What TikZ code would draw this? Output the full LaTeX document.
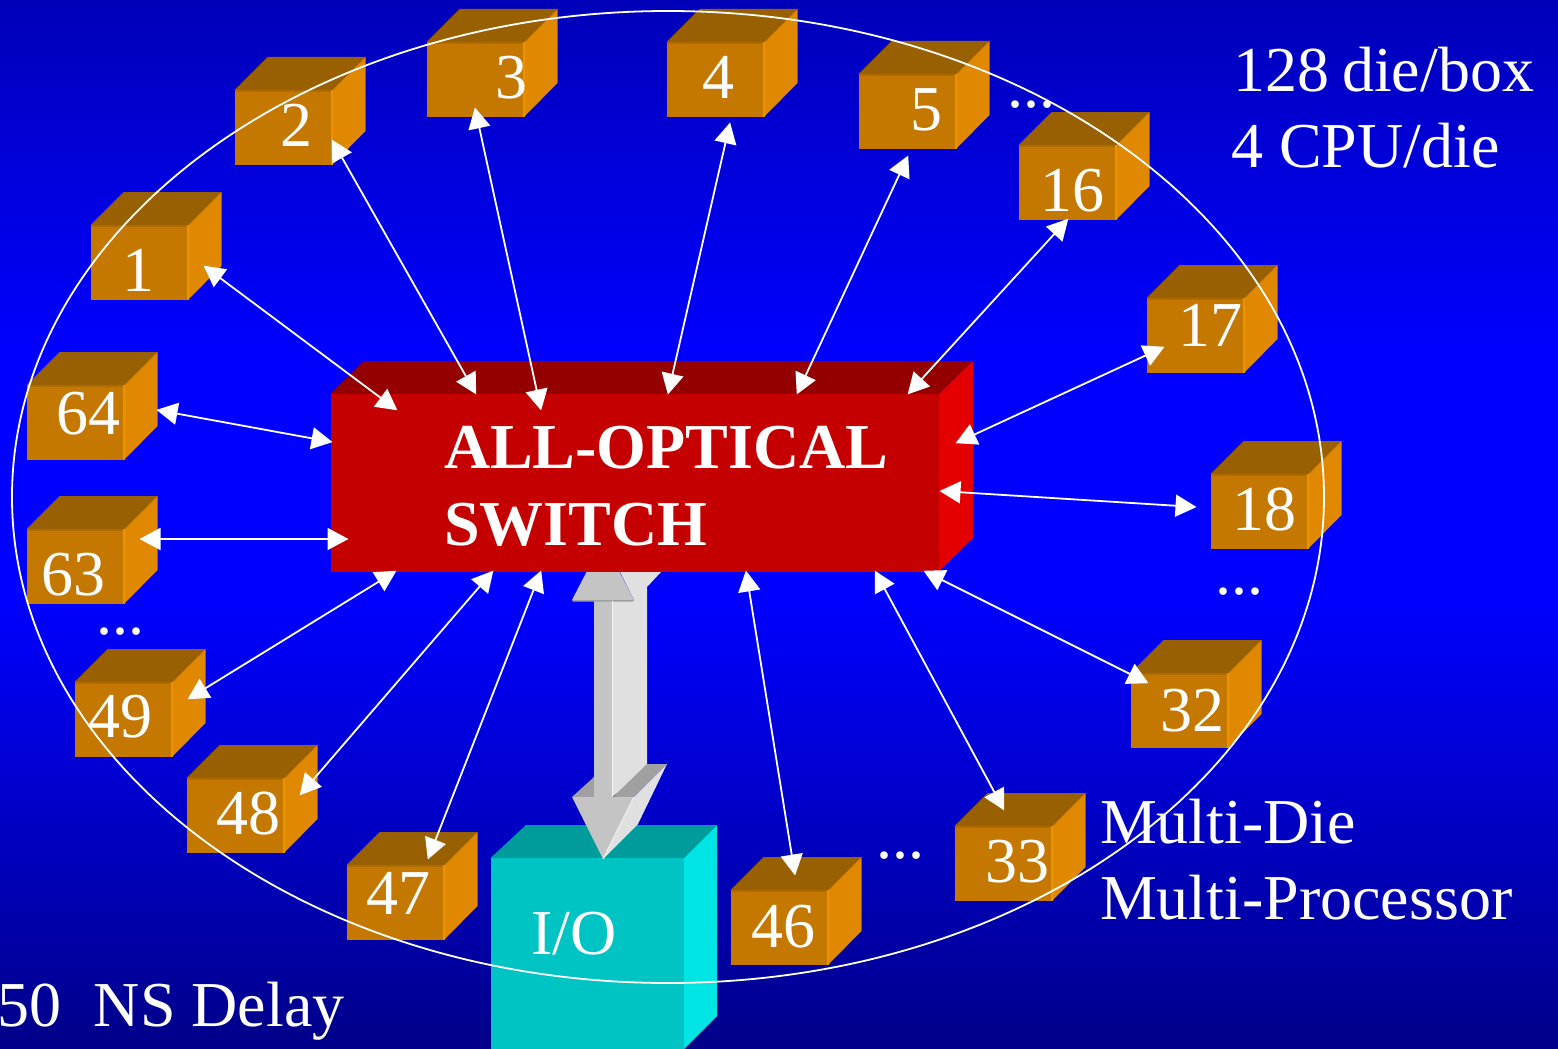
\documentclass[tikz,border=0pt]{standalone}
\usepackage{fontspec}
\setmainfont{Liberation Serif}
\usetikzlibrary{arrows.meta}
\definecolor{bgtop}{HTML}{0000B8}
\definecolor{bgmid}{HTML}{0000FF}
\definecolor{bgbot}{HTML}{000088}
\definecolor{cfront}{HTML}{C47800}
\definecolor{ctop}{HTML}{986000}
\definecolor{cside}{HTML}{E08800}
\definecolor{cstripe}{HTML}{EC9400}
\definecolor{ctopline}{HTML}{AE6C00}
\definecolor{sfront}{HTML}{C40000}
\definecolor{stop}{HTML}{940000}
\definecolor{sside}{HTML}{E40000}
\definecolor{iofront}{HTML}{00C4C4}
\definecolor{iotop}{HTML}{009C9C}
\definecolor{ioside}{HTML}{00E4E4}
\definecolor{gfront}{HTML}{C4C4C4}
\definecolor{gside}{HTML}{E0E0E0}
\definecolor{gdark}{HTML}{A0A0A0}
\tikzset{
  x=1pt,y=-1pt,
  txt/.style={anchor=base west,inner sep=0pt,outer sep=0pt,text=white,font=\fontsize{64}{70}\selectfont},
  boldtxt/.style={txt,font=\fontsize{64}{70}\selectfont\bfseries},
  cubefront/.style={fill=cfront,draw=none,inner sep=0pt,outer sep=0pt,minimum width=98.5pt,minimum height=74.5pt},
  link/.style={white,line width=1.8pt,{Triangle[length=21pt,width=22pt]}-{Triangle[length=21pt,width=22pt]},shorten <=-0.5pt,shorten >=-0.5pt},
  ring/.style={white,line width=1.8pt},
}
\newcommand{\mycube}[6]{%
  \fill[ctop] (#2-0.5,#3+33) -- (#2+32.5,#3) -- (#2+130.5,#3) -- (#2+97.5,#3+33) -- cycle;
  \fill[cside] (#2+97.5,#3+33) -- (#2+130.5,#3) -- (#2+130.5,#3+74) -- (#2+97.5,#3+107.5) -- cycle;
  \node[cubefront] (c#1) at (#2+48.75,#3+70.25) {};
  \fill[ctopline] (#2-0.5,#3+33) rectangle (#2+98,#3+35);
  \fill[cstripe] (#2+95.5,#3+33) rectangle (#2+98,#3+107.5);
  \node[txt] (t#1) at (#5,#6) {#4};
}
\newcommand{\mylink}[5]{%
  \coordinate (a#1) at (#2,#3);
  \coordinate (b#1) at (#4,#5);
  \draw[link] (a#1) -- (b#1);
}
\begin{document}
\begin{tikzpicture}
\useasboundingbox (0,0) rectangle (1558,1049);
% background
\shade[top color=bgtop,bottom color=bgmid,draw=none] (0,0) rectangle (1558,350.5);
\fill[bgmid] (0,350) rectangle (1558,600.5);
\shade[top color=bgmid,bottom color=bgbot,draw=none] (0,600) rectangle (1558,1049);
% cubes
\mycube{1}{91}{192}{1}{122}{291}
\mycube{2}{235}{57}{2}{280}{146}
\mycube{3}{427}{9}{3}{495}{99}
\mycube{4}{667}{9}{4}{702}{98}
\mycube{5}{859}{41}{5}{910}{130}
\mycube{16}{1019}{112}{16}{1040}{211}
\mycube{17}{1147}{265}{17}{1178}{346}
\mycube{18}{1211}{441}{18}{1232}{530}
\mycube{32}{1131}{640}{32}{1160}{731}
\mycube{33}{955}{793}{33}{985}{882}
\mycube{46}{731}{857}{46}{751}{947}
\mycube{47}{347}{832}{47}{366}{914}
\mycube{48}{187}{745}{48}{216}{834}
\mycube{49}{75}{649}{49}{88}{737}
\mycube{63}{27}{496}{63}{41}{595}
\mycube{64}{27}{352}{64}{56}{434}
% I/O box
\fill[iotop] (490.5,858) -- (526,825) -- (717,825) -- (684,858) -- cycle;
\fill[ioside] (684,858) -- (717,825) -- (717,1016) -- (684,1049) -- cycle;
\fill[iofront] (490.5,858) rectangle (684,1049);
\node[txt] (io) at (531,954) {I/O};
% double arrow
\fill[gside] (612,600) -- (634,600) -- (620,572) -- (661,572) -- (647,587) -- (647,770) -- (612,797) -- cycle;
\fill[gdark] (594,777) -- (572,797) -- (594,797) -- cycle;
\fill[gdark] (613,797) -- (647,764) -- (667,764) -- (634,797) -- cycle;
\fill[gside] (634,797) -- (667,764) -- (638,824) -- (603,859) -- cycle;
\fill[gfront] (593.5,600) rectangle (612,798);
\fill[gfront] (572,600) -- (603,540) -- (634,600) -- cycle;
\fill[gdark] (572,600) -- (634,600) -- (633,601.5) -- (573,601.5) -- cycle;
\fill[gfront] (572,797) -- (634,797) -- (603,859) -- cycle;
\draw[white!90!gray,line width=1pt] (634,797) -- (603,859);
\draw[white!90!gray,line width=1pt] (612,601) -- (612,797);
% switch
\fill[stop] (330.5,394) -- (364,361) -- (973,361) -- (939,394) -- cycle;
\fill[sside] (939,394) -- (973,361) -- (973,538) -- (939,571.5) -- cycle;
\node[fill=sfront,draw=none,inner sep=0pt,outer sep=0pt,minimum width=608.5pt,minimum height=177.5pt] (switch) at (634.75,482.75) {};
\node[boldtxt] (sw1) at (444,468.5) {ALL-OPTICAL};
\node[boldtxt] (sw2) at (444,545) {SWITCH};
% links
\mylink{1}{204}{266}{397}{410}
\mylink{2}{332}{140}{476}{394}
\mylink{3}{475}{108}{541}{410}
\mylink{4}{730}{123}{668}{394}
\mylink{5}{908}{156}{797}{394}
\mylink{16}{1068}{219}{908}{394}
\mylink{17}{1164}{347}{956}{443}
\mylink{18}{1196}{507}{940}{491}
\mylink{32}{1148}{683}{924}{571}
\mylink{33}{1004}{810}{875}{571}
\mylink{46}{795}{875}{746}{571}
\mylink{47}{428}{859}{541}{571}
\mylink{48}{300}{795}{493}{571}
\mylink{49}{188}{699}{396}{571}
\mylink{63}{140}{539}{348}{539}
\mylink{64}{157}{410}{332}{442}
% dots
\node[txt] (d1) at (1007,107) {...};
\node[txt] (d2) at (1215,594) {...};
\node[txt] (d3) at (96,634) {...};
\node[txt] (d4) at (876,858) {...};
% captions
\node[txt] (cap1) at (1233,92) {128\hspace{-3pt} die/box};
\node[txt] (cap2) at (1231,167) {4 CPU/die};
\node[txt] (cap3) at (1100,843) {Multi-Die};
\node[txt] (cap4) at (1100,919) {Multi-Processor};
\node[txt] (cap5) at (-2,1026) {50\ \ NS Delay};
% ellipse
\draw[ring] (668,497) ellipse [x radius=656,y radius=486];
\end{tikzpicture}
\end{document}
